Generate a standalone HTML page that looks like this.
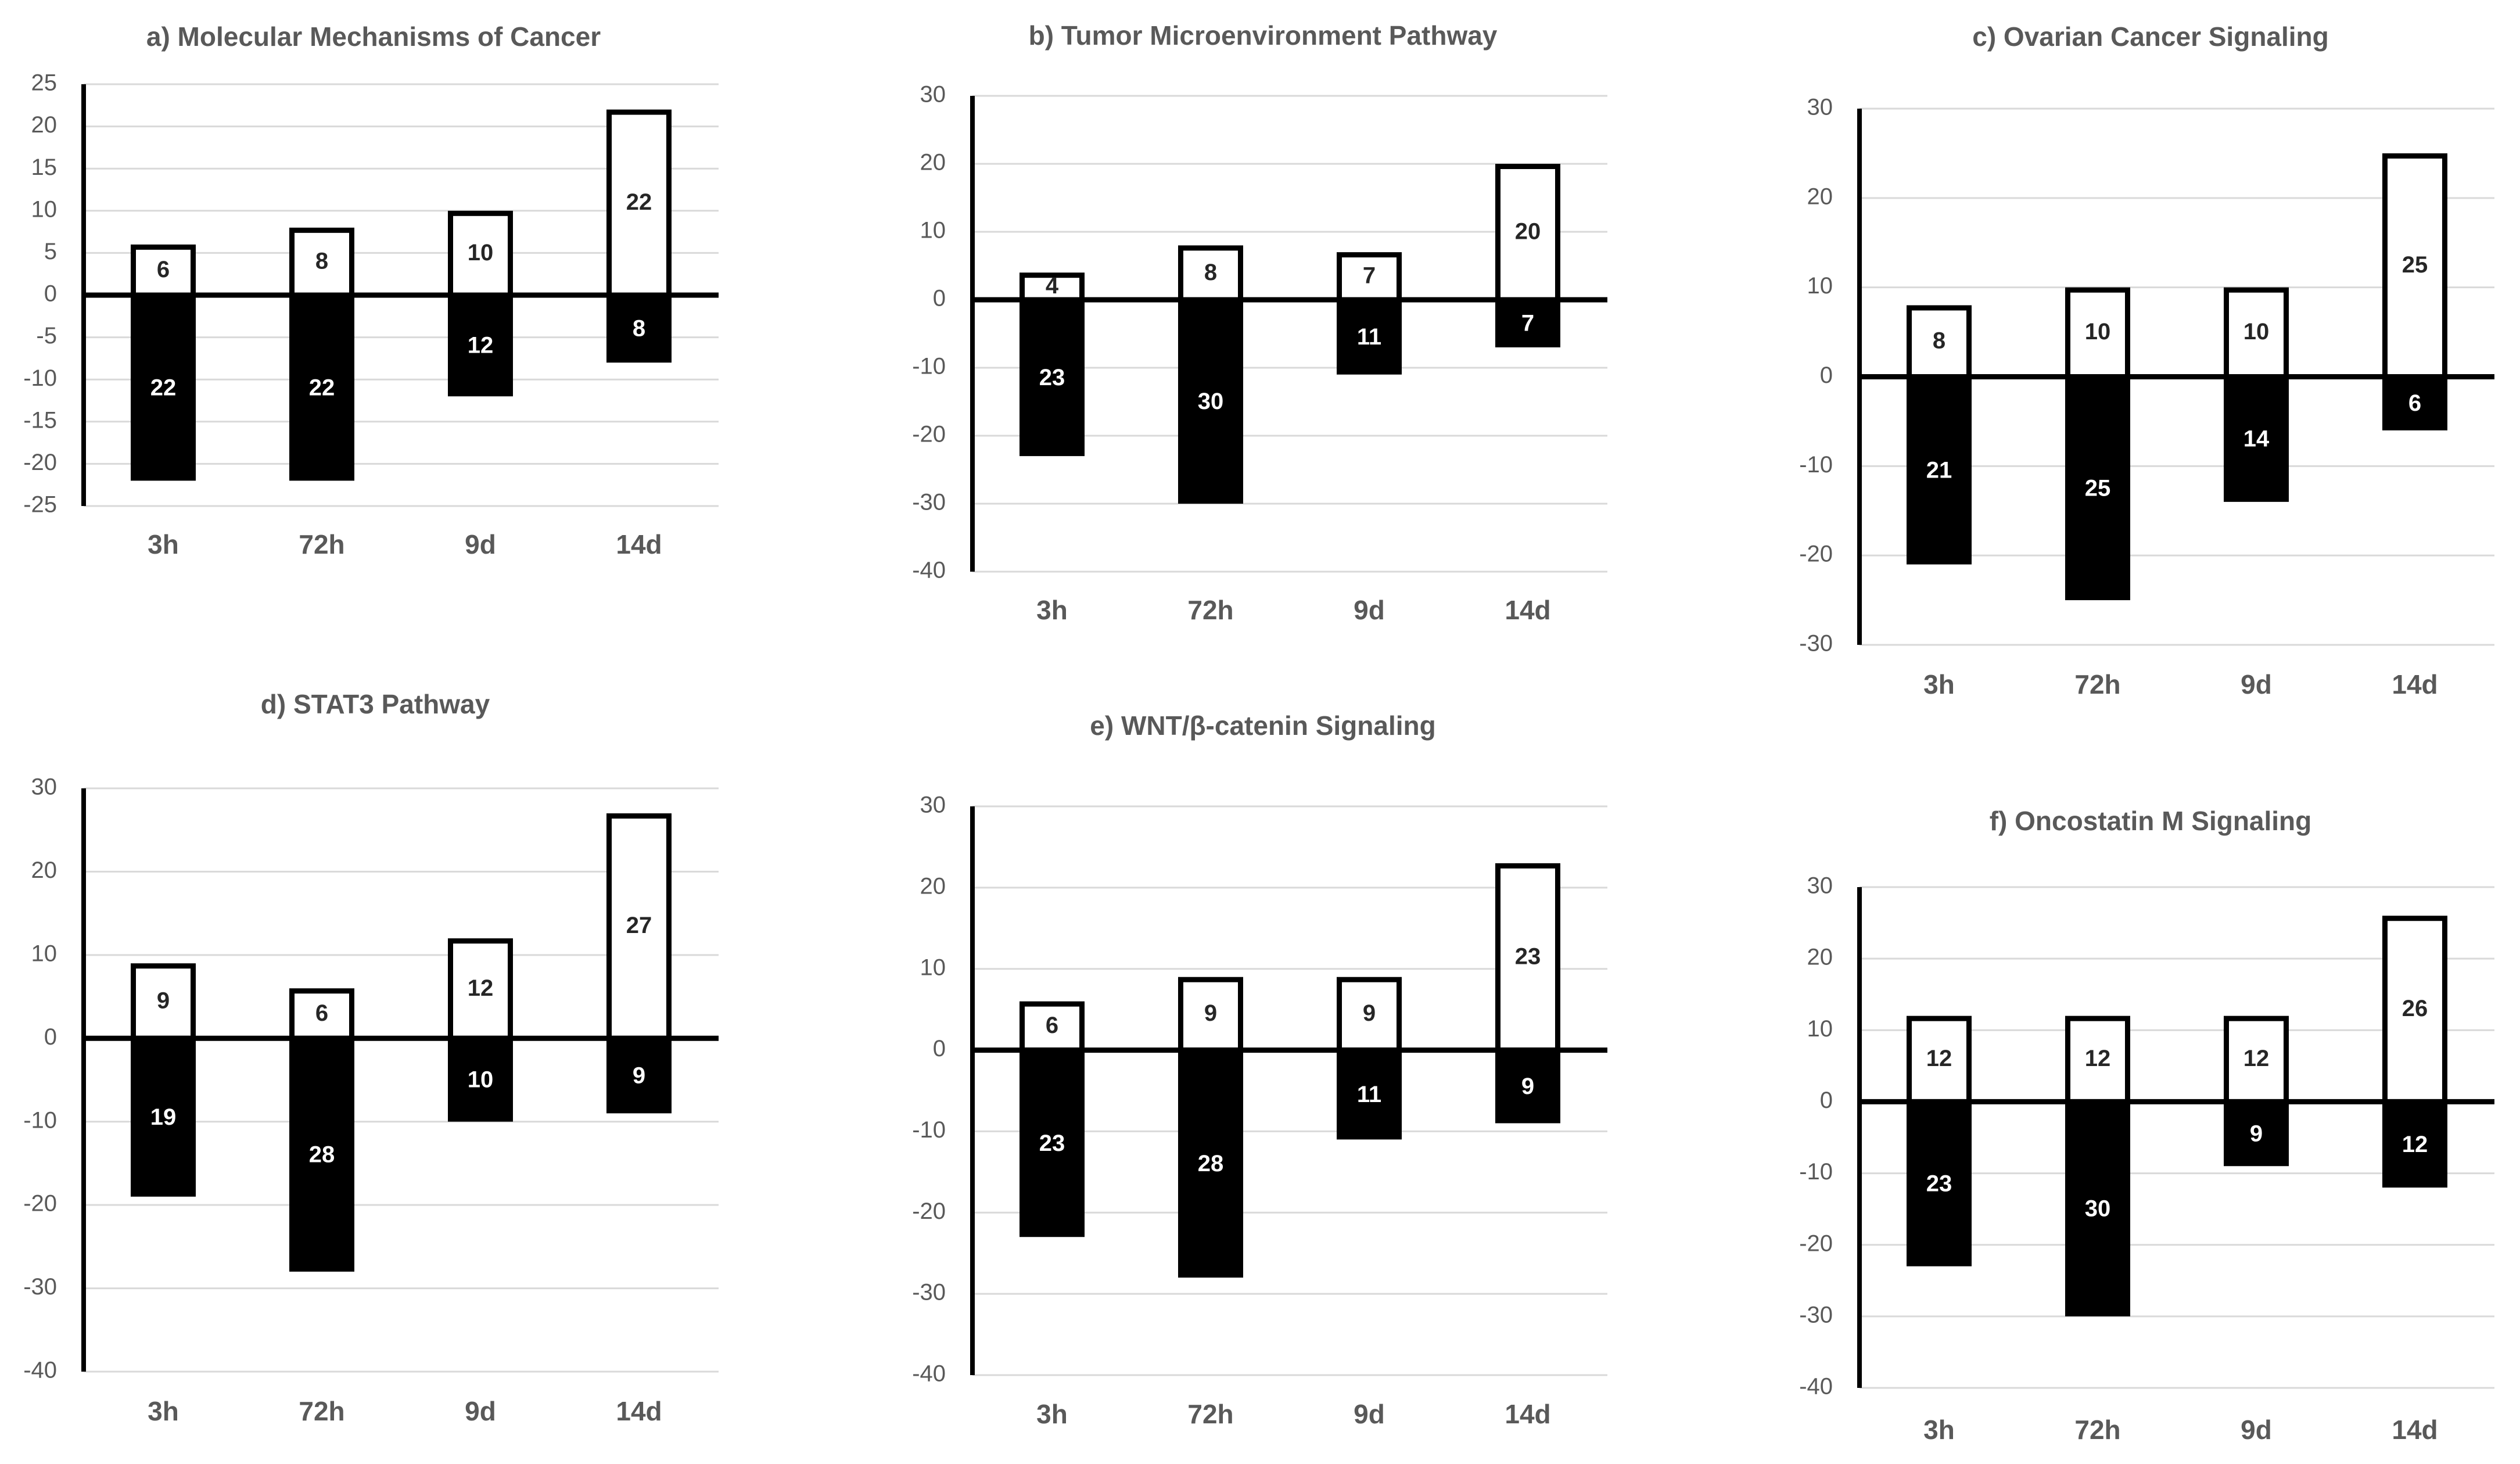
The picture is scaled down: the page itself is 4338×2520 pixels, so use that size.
<!DOCTYPE html>
<html><head><meta charset="utf-8"><style>
html,body{margin:0;padding:0;background:#fff;}
svg{display:block;font-family:"Liberation Sans",Arial,sans-serif;}
</style></head>
<body>
<svg id="chart" width="4338" height="2520" viewBox="0 0 4338 2520" xmlns="http://www.w3.org/2000/svg"></svg>
<script>
const categories = ["3h", "72h", "9d", "14d"];
const titles = ["a) Molecular Mechanisms of Cancer", "b) Tumor Microenvironment Pathway", "c) Ovarian Cancer Signaling", "d) STAT3 Pathway", "e) WNT/β-catenin Signaling", "f) Oncostatin M Signaling"];
const upA = [6, 8, 10, 22];   const downA = [22, 22, 12, 8];
const upB = [4, 8, 7, 20];    const downB = [23, 30, 11, 7];
const upC = [8, 10, 10, 25];  const downC = [21, 25, 14, 6];
const upD = [9, 6, 12, 27];   const downD = [19, 28, 10, 9];
const upE = [6, 9, 9, 23];    const downE = [23, 28, 11, 9];
const upF = [12, 12, 12, 26]; const downF = [23, 30, 9, 12];
const ticksA = [25, 20, 15, 10, 5, 0, -5, -10, -15, -20, -25];
const ticksB = [30, 20, 10, 0, -10, -20, -30, -40];
const ticksC = [30, 20, 10, 0, -10, -20, -30];
const ticksD = [30, 20, 10, 0, -10, -20, -30, -40];
const ticksE = [30, 20, 10, 0, -10, -20, -30, -40];
const ticksF = [30, 20, 10, 0, -10, -20, -30, -40];

const NS = "http://www.w3.org/2000/svg";
const svg = document.getElementById("chart");
function mk(tag, attrs, parent) {
  const e = document.createElementNS(NS, tag);
  for (const k in attrs) e.setAttribute(k, attrs[k]);
  parent.appendChild(e);
  return e;
}
const layouts = [
  {ax: 144,  top: 145,  bot: 871,  title: 67,   cat: 941,  tc: 643},
  {ax: 1674, top: 165,  bot: 984,  title: 65,   cat: 1054, tc: 2174},
  {ax: 3201, top: 187,  bot: 1110, title: 67,   cat: 1182, tc: 3702},
  {ax: 144,  top: 1357, bot: 2361, title: 1216, cat: 2433, tc: 646},
  {ax: 1674, top: 1388, bot: 2367, title: 1253, cat: 2438, tc: 2174},
  {ax: 3201, top: 1527, bot: 2389, title: 1417, cat: 2465, tc: 3702}
];
const ups = [upA, upB, upC, upD, upE, upF];
const downs = [downA, downB, downC, downD, downE, downF];
const ticks = [ticksA, ticksB, ticksC, ticksD, ticksE, ticksF];
const names = ["a", "b", "c", "d", "e", "f"];
const W = 1093, step = 273, bw = 112;

for (let p = 0; p < 6; p++) {
  const L = layouts[p], tk = ticks[p];
  const vmax = tk[0], vmin = tk[tk.length - 1];
  const y = v => L.top + (vmax - v) / (vmax - vmin) * (L.bot - L.top);
  const x = i => L.ax + 137 + step * i;
  const g = mk("g", {}, svg);
  
  

  const t = mk("text", {x: L.tc, y: L.title, "text-anchor": "middle", "dominant-baseline": "middle", "font-size": 46, "font-weight": "bold", fill: "#595959"}, g);
  t.textContent = titles[p];
  
  

  tk.forEach(v => {
    const gl = mk("line", {x1: L.ax, x2: L.ax + W, y1: y(v), y2: y(v), stroke: "#d9d9d9", "stroke-width": 3}, g);
    
    
    const tl = mk("text", {x: L.ax - 46, y: y(v), "text-anchor": "end", "dominant-baseline": "middle", "font-size": 40, fill: "#595959"}, g);
    tl.textContent = v;
    
    
  });

  categories.forEach((c, i) => {
    const u = ups[p][i], d = downs[p][i];
    const db = mk("rect", {x: x(i) - bw / 2, y: y(0), width: bw, height: y(-d) - y(0), fill: "#000"}, g);
    
    
    const ub = mk("rect", {x: x(i) - bw / 2 + 4.5, y: y(u) + 4.5, width: bw - 9, height: y(0) - y(u) - 4.5, fill: "#fff", stroke: "#000", "stroke-width": 9}, g);
    
    
    const ut = mk("text", {x: x(i), y: (y(u) + y(0)) / 2 + 2, "text-anchor": "middle", "dominant-baseline": "middle", "font-size": 40, "font-weight": "bold", fill: "#262626"}, g);
    ut.textContent = u;
    
    
    const dt = mk("text", {x: x(i), y: (y(-d) + y(0)) / 2 + 2, "text-anchor": "middle", "dominant-baseline": "middle", "font-size": 40, "font-weight": "bold", fill: "#fff"}, g);
    dt.textContent = d;
    
    
    const cl = mk("text", {x: x(i), y: L.cat, "text-anchor": "middle", "dominant-baseline": "middle", "font-size": 46, "font-weight": "bold", fill: "#595959"}, g);
    cl.textContent = c;
    
    
  });

  const zl = mk("line", {x1: L.ax, x2: L.ax + W, y1: y(0), y2: y(0), stroke: "#000", "stroke-width": 9}, g);
  
  
  const ya = mk("line", {x1: L.ax, x2: L.ax, y1: L.top, y2: L.bot, stroke: "#000", "stroke-width": 8}, g);
  
  
}
</script>
</body></html>
